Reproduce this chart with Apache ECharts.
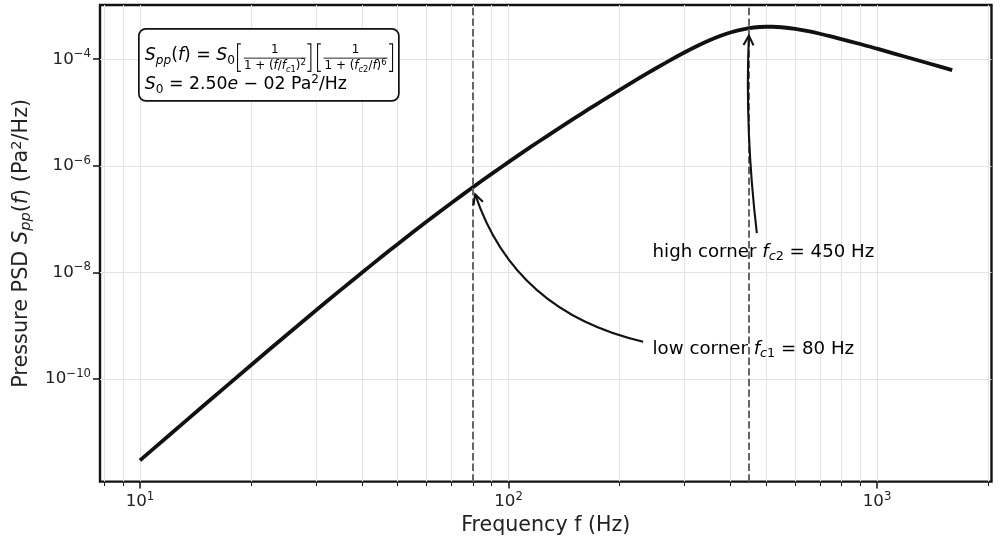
<!DOCTYPE html>
<html>
<head>
<meta charset="utf-8">
<script src="https://cdn.jsdelivr.net/npm/echarts@6/dist/echarts.min.js"></script>
<style>
  html, body { margin: 0; padding: 0; background: #fff; }
  #chart { width: 1003px; height: 541px; }
</style>
</head>
<body>
<div id="chart"></div>
<script>
// PSD curve
var freq = [10, 12, 15, 20, 25, 30, 35, 40, 45, 50, 60, 70, 80, 90, 100, 110, 120, 135, 150, 165,
  180, 200, 225, 250, 275, 300, 325, 350, 375, 400, 420, 450, 480, 500, 520, 550, 600, 650, 700, 750,
  800, 900, 1000, 1200, 1400, 1600];
var psd = [2.964e-12, 8.79e-12, 3.313e-11, 1.813e-10, 6.70e-10, 1.924e-9, 4.645e-9, 9.865e-9, 1.899e-8, 3.383e-8,
  8.99e-8, 2.006e-7, 3.946e-7, 7.062e-7, 1.175e-6, 1.845e-6, 2.765e-6, 4.733e-6, 7.584e-6, 1.1535e-5,
  1.682e-5, 2.637e-5, 4.317e-5, 6.632e-5, 9.657e-5, 1.3395e-4, 1.775e-4, 2.250e-4, 2.730e-4, 3.176e-4,
  3.483e-4, 3.830e-4, 4.025e-4, 4.075e-4, 4.071e-4, 3.985e-4, 3.707e-4, 3.361e-4, 3.011e-4, 2.687e-4,
  2.376e-4, 1.930e-4, 1.577e-4, 1.103e-4, 8.13e-5, 6.23e-5];

// corner annotations
var cornerFreq = [80, 450];
var cornerPsd = [3.946e-7, 3.830e-4];
var cornerWord = ['low corner ', 'high corner '];
var cornerIdx = ['1', '2'];
var labelFreq = [246, 246];
var labelPsd = [3.68e-10, 2.38e-8];
var tailFreq = [232, 472];
var tailPsd = [5.0e-10, 5.45e-8];
var arrowRad = [-0.28, -0.04];

// axes
var xMin = 7.79, xMax = 2045;
var yMin = 1.186e-12, yMax = 1.042e-3;
var xMajor = [10, 100, 1000];
var xMinor = [8, 9, 20, 30, 40, 50, 60, 70, 80, 90, 200, 300, 400, 500, 600, 700, 800, 900, 2000];
var yMajor = [1e-10, 1e-8, 1e-6, 1e-4];
var s0Text = '2.50';
var s0Exp = '02';

var FONT = '"DejaVu Sans", sans-serif';
var INK = '#111';

var chart = echarts.init(document.getElementById('chart'));

function powLabel(v) {
  var e = Math.round(Math.log10(v));
  return '{b|10}{s|' + (e < 0 ? '\u2212' : '') + Math.abs(e) + '}';
}
var powRich = {
  b: { fontFamily: FONT, fontSize: 16.7, color: '#222', lineHeight: 22 },
  s: { fontFamily: FONT, fontSize: 11.7, color: '#222', lineHeight: 12, verticalAlign: 'top' }
};
var mathRich = function (size) {
  return {
    n: { fontFamily: FONT, fontSize: size, color: '#222', lineHeight: size + 4 },
    i: { fontFamily: FONT, fontSize: size, fontStyle: 'italic', color: '#222', lineHeight: size + 4 },
    si: { fontFamily: FONT, fontSize: size * 0.7, fontStyle: 'italic', color: '#222', lineHeight: size * 0.7, verticalAlign: 'bottom' },
    sn: { fontFamily: FONT, fontSize: size * 0.7, color: '#222', lineHeight: size * 0.7, verticalAlign: 'bottom' },
    sp: { fontFamily: FONT, fontSize: size * 0.7, color: '#222', lineHeight: size * 0.7, verticalAlign: 'top' }
  };
};

var gridLine = { color: '#e4e4e4', width: 1 };

var option = {
  animation: false,
  backgroundColor: '#fff',
  grid: { left: 100, right: 11.5, top: 5, bottom: 59, show: true, borderColor: INK, borderWidth: 2.4, backgroundColor: 'transparent' },
  xAxis: [{
    type: 'log', min: xMin, max: xMax,
    name: 'Frequency f (Hz)', nameLocation: 'middle', nameGap: 32,
    nameTextStyle: { fontFamily: FONT, fontSize: 20.6, color: '#222' },
    axisLine: { show: false },
    axisTick: { show: true, length: 7, customValues: xMajor, lineStyle: { color: INK, width: 1.5 } },
    axisLabel: { customValues: xMajor, formatter: powLabel, rich: powRich, margin: 9 },
    splitLine: { show: true, lineStyle: gridLine }
  }, {
    type: 'log', min: xMin, max: xMax, position: 'top', offset: -477,
    axisLine: { show: false },
    axisTick: { show: true, inside: true, length: 4, customValues: xMinor, lineStyle: { color: INK, width: 1 } },
    axisLabel: { show: false },
    splitLine: { show: true, lineStyle: gridLine }
  }],
  yAxis: {
    type: 'log', min: yMin, max: yMax,
    name: '{n|Pressure PSD }{i|S}{si|pp}{n|(}{i|f}{n|) (Pa}{sp|2}{n|/Hz)}',
    nameLocation: 'middle', nameGap: 65, nameRotate: 90,
    nameTextStyle: { rich: mathRich(20.8) },
    axisLine: { show: false },
    axisTick: { show: true, length: 7, customValues: yMajor, lineStyle: { color: INK, width: 1.5 } },
    axisLabel: { customValues: yMajor, formatter: powLabel, rich: powRich, margin: 9 },
    splitLine: { show: true, lineStyle: gridLine }
  },
  series: [{
    type: 'line',
    data: freq.map(function (f, k) { return [f, psd[k]]; }),
    showSymbol: false,
    smooth: 0.3,
    lineStyle: { color: INK, width: 3.8 },
    z: 3,
    markLine: {
      silent: true,
      symbol: ['none', 'none'],
      label: { show: false },
      lineStyle: { color: '#666', width: 2, type: [7.4, 3.2] },
      data: cornerFreq.map(function (f) { return { xAxis: f }; })
    }
  }]
};
chart.setOption(option);

// overlay: formula box, arrows and corner labels
function overlay() {
  var els = [];
  var r12 = mathRich(17.3), r8 = mathRich(11.9);

  var box = {
    type: 'group', left: 138, top: 28,
    children: [
      { type: 'rect', shape: { x: 0, y: 0, width: 260, height: 72, r: 7 }, style: { fill: '#fff', stroke: INK, lineWidth: 1.7 } },
      { type: 'text', x: 6, y: 27, style: { text: '{i|S}{si|pp}{n|(}{i|f}{n|) = }{i|S}{sn|0}', rich: r12, verticalAlign: 'middle' } },
      { type: 'polyline', shape: { points: [[102, 15], [98.7, 15], [98.7, 42.5], [102, 42.5]] }, style: { stroke: INK, lineWidth: 1.1, fill: null } },
      { type: 'polyline', shape: { points: [[168.5, 15], [172, 15], [172, 42.5], [168.5, 42.5]] }, style: { stroke: INK, lineWidth: 1.1, fill: null } },
      { type: 'polyline', shape: { points: [[182, 15], [178.7, 15], [178.7, 42.5], [182, 42.5]] }, style: { stroke: INK, lineWidth: 1.1, fill: null } },
      { type: 'polyline', shape: { points: [[250.2, 15], [253.7, 15], [253.7, 42.5], [250.2, 42.5]] }, style: { stroke: INK, lineWidth: 1.1, fill: null } },
      { type: 'line', shape: { x1: 105, y1: 29.3, x2: 167, y2: 29.3 }, style: { stroke: INK, lineWidth: 0.9 } },
      { type: 'line', shape: { x1: 184.7, y1: 29.3, x2: 248.7, y2: 29.3 }, style: { stroke: INK, lineWidth: 0.9 } },
      { type: 'text', x: 136, y: 21, style: { text: '{n|1}', rich: r8, align: 'center', verticalAlign: 'middle' } },
      { type: 'text', x: 216.7, y: 21, style: { text: '{n|1}', rich: r8, align: 'center', verticalAlign: 'middle' } },
      { type: 'text', x: 136, y: 37.5, style: { text: '{n|1 + (}{i|f}{n|/}{i|f}{si|c}{sn|1}{n|)}{sp|2}', rich: r8, align: 'center', verticalAlign: 'middle' } },
      { type: 'text', x: 216.7, y: 37.5, style: { text: '{n|1 + (}{i|f}{si|c}{sn|2}{n|/}{i|f}{n|)}{sp|6}', rich: r8, align: 'center', verticalAlign: 'middle' } },
      { type: 'text', x: 6, y: 56, style: { text: '{i|S}{sn|0}{n| = ' + s0Text + '}{i|e}{n| \u2212 ' + s0Exp + ' Pa}{sp|2}{n|/Hz}', rich: r12, verticalAlign: 'middle' } }
    ]
  };
  els.push(box);

  for (var k = 0; k < cornerFreq.length; k++) {
    var tail = chart.convertToPixel({ gridIndex: 0 }, [tailFreq[k], tailPsd[k]]);
    var target = chart.convertToPixel({ gridIndex: 0 }, [cornerFreq[k], cornerPsd[k]]);
    var rad = arrowRad[k];
    var dx = target[0] - tail[0], dy = target[1] - tail[1];
    var cx = (tail[0] + target[0]) / 2 - rad * dy;
    var cy = (tail[1] + target[1]) / 2 + rad * dx;
    // pull the tip back a little from the curve
    var ux = cx - target[0], uy = cy - target[1];
    var ul = Math.sqrt(ux * ux + uy * uy);
    var tip = [target[0] + ux / ul * 7.5, target[1] + uy / ul * 7.5];
    var tx = tip[0] - cx, ty = tip[1] - cy;
    var tl = Math.sqrt(tx * tx + ty * ty);
    tx /= tl; ty /= tl;
    var hl = 9.5, hw = 5;
    els.push({
      type: 'bezierCurve', z: 10,
      shape: { x1: tail[0], y1: tail[1], x2: tip[0], y2: tip[1], cpx1: cx, cpy1: cy },
      style: { stroke: INK, lineWidth: 2.1, fill: null }
    });
    els.push({
      type: 'polyline', z: 10,
      shape: { points: [
        [tip[0] - tx * hl - ty * hw, tip[1] - ty * hl + tx * hw],
        tip,
        [tip[0] - tx * hl + ty * hw, tip[1] - ty * hl - tx * hw]
      ] },
      style: { stroke: INK, lineWidth: 2.1, fill: null }
    });
    var lp = chart.convertToPixel({ gridIndex: 0 }, [labelFreq[k], labelPsd[k]]);
    els.push({
      type: 'text', z: 10, x: lp[0], y: lp[1],
      style: {
        text: '{n|' + cornerWord[k] + '}{i|f}{si|c}{sn|' + cornerIdx[k] + '}{n| = ' + cornerFreq[k] + ' Hz}',
        rich: mathRich(18.2), verticalAlign: 'middle'
      }
    });
  }
  chart.setOption({ graphic: els });
}
overlay();
</script>
</body>
</html>
